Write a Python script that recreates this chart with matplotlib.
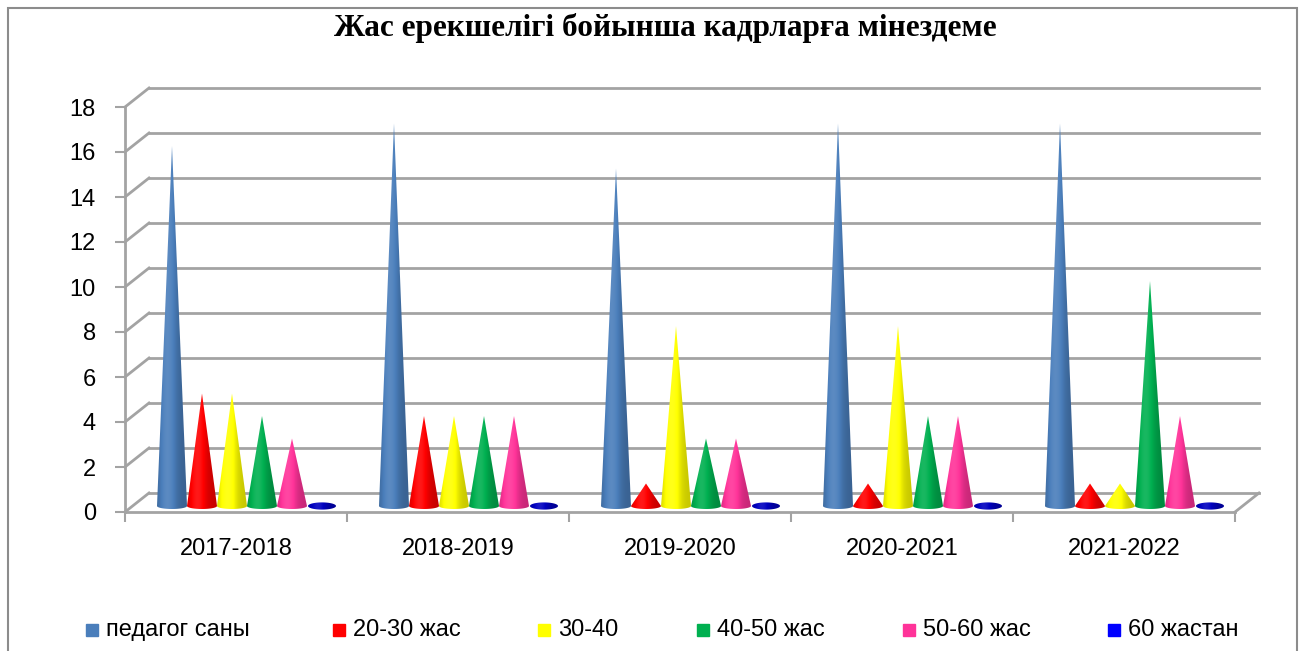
import numpy as np
from matplotlib import pyplot as plt
from matplotlib.patches import Polygon, Rectangle
from matplotlib.colors import to_rgb

years = ['2017-2018', '2018-2019', '2019-2020', '2020-2021', '2021-2022']
series = ['педагог саны', '20-30 жас', '30-40', '40-50 жас', '50-60 жас', '60 жастан']
teachers = [16, 17, 15, 17, 17]
age_20_30 = [5, 4, 1, 1, 1]
age_30_40 = [5, 4, 8, 8, 1]
age_40_50 = [4, 4, 3, 4, 10]
age_50_60 = [3, 4, 3, 4, 4]
age_60 = [0, 0, 0, 0, 0]
values = [teachers, age_20_30, age_30_40, age_40_50, age_50_60, age_60]
colors = ['#4a7ebb', '#ff0000', '#ffff00', '#00b050', '#ff3399', '#0000ff']
yticks = list(range(0, 19, 2))

W, H = 1303, 651
fig = plt.figure(figsize=(W / 100, H / 100), dpi=100)
fig.patches.append(Rectangle((8 / W, -0.1), (W - 14) / W, (H - 8) / H + 0.1,
                             transform=fig.transFigure, fill=False,
                             edgecolor='#8c8c8c', linewidth=1.5))

x0, x1, y0, y1 = 125, 1235, 512, 107
ax = fig.add_axes([x0 / W, (H - y0) / H, (x1 - x0) / W, (y0 - y1) / H])
ax.set_xlim(-0.5, 4.5)
ax.set_ylim(0, 18)
ppx = (x1 - x0) / 5
ppy = (y0 - y1) / 18

grid_c = '#a3a3a3'
bdx, bdy = 24 / ppx, 19 / ppy
for v in yticks:
    ax.plot([-0.5 + bdx, 4.5 + bdx], [v + bdy, v + bdy], color=grid_c, lw=2, clip_on=False, zorder=1)
    ax.plot([-0.5, -0.5 + bdx], [v, v + bdy], color=grid_c, lw=2, clip_on=False, zorder=1)
ax.plot([4.5, 4.5 + bdx], [0, bdy], color=grid_c, lw=2, clip_on=False, zorder=1)

for s in ['top', 'right']:
    ax.spines[s].set_visible(False)
for s in ['left', 'bottom']:
    ax.spines[s].set_color(grid_c)
    ax.spines[s].set_linewidth(2)

ax.set_yticks(yticks)
ax.tick_params(axis='y', length=7, width=1.5, color=grid_c, pad=14, labelsize=17)
ax.set_xticks(np.arange(-0.5, 5, 1))
ax.set_xticklabels([])
ax.tick_params(axis='x', which='major', length=7, width=1.5, color=grid_c)
ax.set_xticks(range(5), minor=True)
ax.set_xticklabels(years, minor=True)
ax.tick_params(axis='x', which='minor', length=0, pad=19, labelsize=17)
for lab in ax.get_xticklabels(minor=True) + ax.get_yticklabels():
    lab.set_family('Liberation Sans')


def shade(c, n=64):
    t = np.linspace(0, 1, n)
    f = 0.78 + 0.34 * np.exp(-((t - 0.35) / 0.3) ** 2)
    c = np.array(to_rgb(c))
    out = np.where(f[:, None] <= 1, c * f[:, None], c + (1 - c) * (f[:, None] - 1) * 0.8)
    return np.clip(out, 0, 1)[None, :, :]


cw = 30 / ppx
cdx, cdy = 11 / ppx, 6 / ppy
eh = 3 / ppy
th = np.linspace(np.pi, 2 * np.pi, 30)
for k, (vals, col) in enumerate(zip(values, colors)):
    for i, v in enumerate(vals):
        cx = i + (k - 2.5) * cw + cdx
        if v > 0:
            hw = cw / 2
            pts = [(cx, v + cdy)] + [(cx + hw * np.cos(a), cdy + eh * np.sin(a)) for a in th]
            ext = (cx - hw, cx + hw, cdy - eh, v + cdy)
            img = shade(col)
        else:
            hw = 28 / ppx / 2
            a2 = np.linspace(0, 2 * np.pi, 60)
            pts = [(cx + hw * np.cos(a), cdy + 1.2 * eh * np.sin(a)) for a in a2]
            ext = (cx - hw, cx + hw, cdy - 1.2 * eh, cdy + 1.2 * eh)
            img = shade('#0000c0')
        poly = Polygon(pts, closed=True, transform=ax.transData)
        im = ax.imshow(img, extent=ext, aspect='auto', interpolation='bilinear', zorder=3)
        im.set_clip_path(poly)

ax.set_xlim(-0.5, 4.5)
ax.set_ylim(0, 18)

fig.text(665 / W, 1 - 28 / H, 'Жас ерекшелігі бойынша кадрларға мінездеме',
         ha='center', va='center', fontsize=22.5, fontweight='bold', family='Liberation Serif')

leg_x = [86, 333, 538, 697, 903, 1108]
ly = 630
for lx, name, col in zip(leg_x, series, colors):
    fig.patches.append(Rectangle((lx / W, (H - ly - 6) / H), 12 / W, 12 / H,
                                 transform=fig.transFigure, color=col))
    fig.text((lx + 20) / W, (H - ly) / H, name, ha='left', va='center',
             fontsize=17, family='Liberation Sans')

fig.savefig('out.png')
